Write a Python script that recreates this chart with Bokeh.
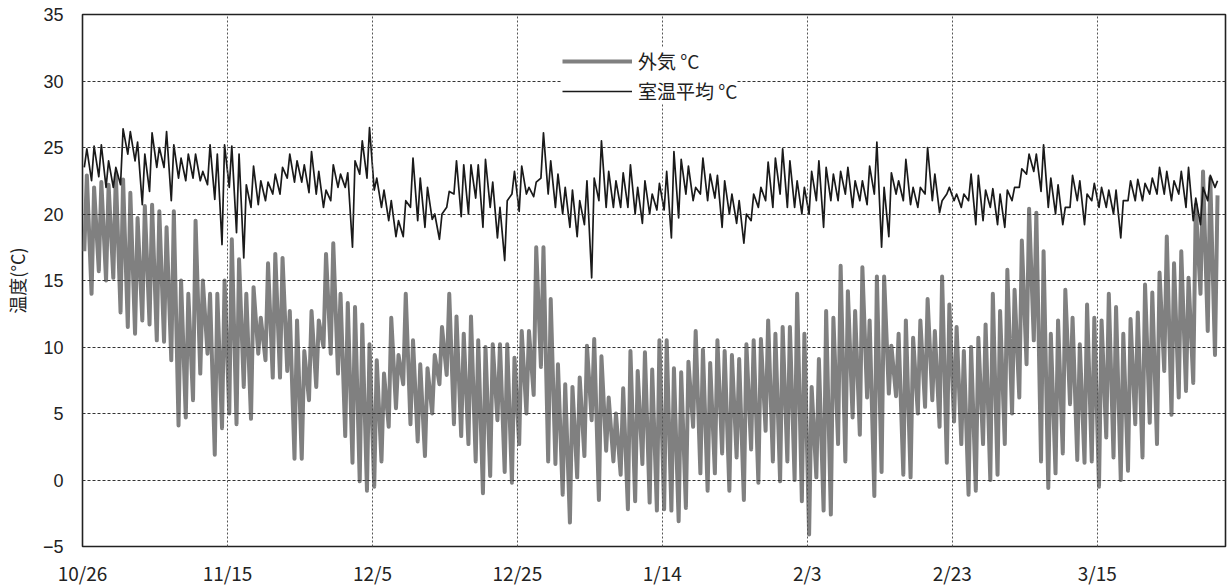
from bokeh.plotting import figure
from bokeh.models import Range1d, FixedTicker, Legend, LegendItem
from bokeh.embed import file_html
from bokeh.resources import INLINE

# ---- data (daily highs/lows), day 0 = 10/26 ----
out_hi = [22.9, 22.0, 22.4, 22.2, 23.0, 22.6, 21.6, 19.7, 20.6, 20.7, 20.2, 19.0, 20.2, 15.0, 14.0, 19.5, 15.0, 14.0, 14.0, 15.0,
          18.1, 16.6, 14.0, 14.5, 12.2, 16.3, 17.0, 16.7, 12.7, 12.0, 9.7, 12.7, 12.0, 17.0, 17.8, 14.0, 13.3, 13.0, 11.7, 10.2,
          9.0, 8.0, 12.2, 9.4, 14.0, 10.5, 8.7, 8.4, 9.4, 11.5, 14.0, 12.3, 11.0, 12.3, 10.5, 10.0, 10.2, 10.2, 10.2, 9.2,
          11.2, 11.2, 17.5, 17.5, 13.6, 8.7, 7.2, 7.0, 7.7, 10.1, 10.6, 9.3, 6.2, 5.0, 6.9, 9.7, 8.2, 9.6, 8.3, 10.5,
          10.5, 8.4, 8.1, 8.9, 11.2, 9.8, 8.8, 10.5, 9.7, 9.4, 9.1, 10.2, 10.5, 10.6, 12.0, 11.0, 11.5, 11.5, 14.0, 11.0,
          7.0, 9.1, 12.7, 12.2, 16.1, 14.2, 12.7, 16.0, 12.0, 15.3, 15.3, 10.1, 11.0, 12.0, 10.7, 12.0, 13.6, 11.2, 15.3, 13.2,
          11.5, 9.7, 10.0, 10.7, 11.7, 14.0, 12.7, 15.8, 14.3, 18.0, 20.4, 20.1, 17.2, 11.0, 12.0, 14.3, 12.2, 10.2, 13.2, 12.2,
          12.0, 14.0, 13.0, 11.0, 12.1, 12.6, 14.7, 14.1, 15.6, 18.3, 16.3, 17.2, 15.2, 20.7, 23.2, 22.7, 21.4]
out_lo = [17.2, 14.0, 15.7, 15.0, 15.2, 12.6, 11.5, 11.0, 12.0, 11.7, 10.5, 10.4, 9.0, 4.1, 4.7, 6.0, 8.0, 9.5, 1.9, 3.9,
          5.0, 4.2, 7.0, 4.6, 9.5, 9.0, 7.7, 7.7, 8.2, 1.6, 1.6, 6.0, 7.0, 10.0, 9.5, 8.0, 3.3, 1.3, -0.1, -0.8,
          -0.5, 1.4, 4.0, 5.4, 7.2, 4.2, 2.9, 1.8, 5.0, 7.2, 7.9, 4.2, 3.3, 2.7, 1.4, -1.0, 0.3, 4.5, 0.6, -0.2,
          2.7, 5.0, 6.4, 8.5, 1.4, 1.2, -1.1, -3.2, 0.2, 1.8, 4.5, -1.5, 2.2, 1.4, 0.4, -2.2, -1.6, 1.2, -1.7, -2.3,
          -2.2, -2.3, -3.1, -2.1, 4.0, 0.5, -0.8, 0.5, 2.0, -0.8, 1.7, -1.5, 2.3, -0.2, 3.7, 1.4, -0.1, 1.4, 0.0, -1.6,
          -4.1, 0.2, -2.3, -2.6, 2.7, 1.4, 4.7, 3.4, 6.2, -1.2, 0.6, 6.5, 6.3, 0.4, 0.2, 5.0, 5.5, 6.0, 4.0, 1.3,
          4.4, 2.7, -1.1, -0.8, 2.7, 0.0, 0.4, 2.7, 5.0, 6.2, 8.7, 10.5, 1.4, -0.6, 0.5, 2.0, 5.7, 1.5, 1.3, 1.4,
          -0.5, 3.2, 1.7, 0.0, 0.7, 4.2, 1.7, 4.3, 2.7, 8.2, 4.9, 6.2, 6.7, 7.3, 14.0, 11.2, 9.4]
in_hi = [24.9, 25.1, 25.2, 24.0, 23.5, 26.4, 26.2, 25.4, 24.5, 26.1, 25.0, 26.2, 25.2, 24.2, 24.5, 24.5, 23.2, 25.2, 24.5, 25.2,
         25.1, 24.5, 22.2, 23.6, 22.5, 22.4, 23.0, 23.5, 24.5, 24.0, 23.7, 24.7, 23.2, 21.8, 23.7, 23.0, 23.1, 24.0, 25.5, 26.5,
         22.7, 21.8, 21.0, 19.5, 21.0, 24.2, 22.7, 22.0, 20.0, 20.0, 21.7, 24.0, 23.7, 23.7, 23.7, 24.1, 22.4, 20.5, 21.0, 23.2,
         23.6, 22.0, 22.4, 26.1, 24.0, 23.0, 22.0, 21.8, 21.0, 22.5, 22.7, 25.5, 23.2, 22.5, 23.1, 23.7, 22.0, 22.5, 21.5, 22.3,
         23.2, 24.7, 24.1, 23.6, 22.0, 24.2, 23.0, 22.9, 22.5, 21.5, 21.0, 20.0, 21.5, 22.0, 23.9, 24.2, 24.9, 24.0, 22.5, 22.0,
         23.2, 24.0, 23.5, 23.0, 23.2, 23.5, 22.5, 22.5, 23.6, 25.4, 22.0, 23.1, 22.5, 24.1, 22.0, 22.0, 25.0, 23.0, 21.0, 22.0,
         21.5, 21.5, 23.0, 22.9, 21.8, 21.9, 21.5, 21.8, 22.0, 23.4, 24.5, 24.5, 25.2, 22.7, 22.2, 20.5, 22.9, 22.5, 21.5, 22.3,
         22.0, 21.8, 21.8, 21.0, 22.5, 22.6, 22.3, 22.7, 23.5, 23.2, 22.5, 23.2, 23.5, 21.2, 22.0, 22.9, 22.5]
in_lo = [23.5, 22.5, 22.8, 22.0, 22.0, 22.2, 24.5, 24.0, 20.7, 21.7, 23.5, 23.5, 21.0, 22.7, 22.5, 22.7, 22.5, 22.2, 21.1, 17.7,
         22.0, 18.6, 16.7, 20.5, 20.7, 21.0, 21.5, 21.5, 22.7, 22.4, 22.4, 21.6, 21.5, 20.5, 21.0, 22.0, 22.0, 17.5, 23.0, 22.7,
         21.8, 20.5, 19.5, 18.3, 18.3, 20.5, 19.5, 19.0, 19.6, 18.1, 20.5, 21.5, 19.8, 20.0, 21.2, 19.0, 20.5, 18.2, 16.5, 21.5,
         20.2, 21.5, 21.3, 22.7, 21.5, 20.5, 20.0, 19.0, 18.3, 19.2, 15.2, 21.0, 20.5, 20.5, 20.5, 20.5, 20.0, 19.3, 20.0, 20.3,
         20.3, 18.2, 19.7, 21.5, 21.0, 21.5, 21.0, 21.2, 19.0, 20.0, 19.3, 17.8, 19.5, 20.5, 21.0, 20.5, 21.5, 20.5, 20.5, 20.0,
         20.0, 21.0, 19.0, 21.0, 21.0, 21.5, 20.5, 21.0, 20.7, 21.5, 17.5, 18.3, 21.5, 21.0, 20.7, 20.5, 21.5, 21.0, 20.1, 21.5,
         21.0, 20.5, 21.0, 19.2, 19.5, 20.5, 19.2, 19.0, 21.0, 22.0, 23.0, 23.2, 21.7, 20.5, 20.0, 19.2, 20.5, 21.0, 19.2, 21.0,
         20.5, 20.5, 20.0, 18.2, 21.0, 21.0, 21.0, 21.5, 21.5, 21.5, 21.0, 21.5, 20.5, 19.5, 19.2, 21.0, 22.0]

tick_days = [0, 20, 40, 60, 80, 100, 120, 140]
tick_labels = ["10/26", "11/15", "12/5", "12/25", "1/14", "2/3", "2/23", "3/15"]
y_ticks = [-5, 0, 5, 10, 15, 20, 25, 30, 35]

series_out_name = "外気 °C"
series_in_name = "室温平均 °C"
y_title = "温度(°C)"


def daily_trace(lo, hi):
    xs, ys = [], []
    for d, (a, b) in enumerate(zip(lo, hi)):
        xs += [d + 0.25, d + 0.6]
        ys += [a, b]
    return xs, ys


ox, oy = daily_trace(out_lo, out_hi)
ix, iy = daily_trace(in_lo, in_hi)

p = figure(width=1229, height=588, output_backend="svg", toolbar_location=None,
           x_range=Range1d(0, 157.7), y_range=Range1d(-5, 35),
           min_border_left=82, min_border_right=4, min_border_top=14, min_border_bottom=42)
p.background_fill_color = "white"
p.border_fill_color = "white"
p.outline_line_color = "#222222"
p.outline_line_width = 1.6

r_out = p.line(ox, oy, line_color="#808080", line_width=4, line_join="round")
r_in = p.line(ix, iy, line_color="#1a1a1a", line_width=1.7, line_join="round")

# axes
p.xaxis.ticker = FixedTicker(ticks=tick_days)
p.xaxis.major_label_overrides = {d: s for d, s in zip(tick_days, tick_labels)}
p.yaxis.ticker = FixedTicker(ticks=y_ticks)
p.yaxis.major_label_overrides = {v: ("−5" if v == -5 else str(v)) for v in y_ticks}
for ax in (p.xaxis[0], p.yaxis[0]):
    ax.axis_line_color = None
    ax.major_tick_line_color = None
    ax.minor_tick_line_color = None
    ax.major_tick_out = 0
    ax.major_tick_in = 0
p.xaxis.major_label_text_font = "Noto Sans CJK JP"
p.xaxis.major_label_text_font_size = "19px"
p.xaxis.major_label_text_color = "#222222"
p.xaxis.major_label_standoff = 12
p.yaxis.major_label_text_font = "Liberation Sans"
p.yaxis.major_label_text_font_size = "18px"
p.yaxis.major_label_text_color = "#222222"
p.yaxis.major_label_standoff = 19
p.yaxis.axis_label = y_title
p.yaxis.axis_label_text_font = "Noto Sans CJK JP"
p.yaxis.axis_label_text_font_size = "18px"
p.yaxis.axis_label_text_font_style = "normal"
p.yaxis.axis_label_text_color = "#222222"
p.yaxis.axis_label_standoff = 10

# grids drawn on top of the data
p.ygrid.grid_line_color = "#333333"
p.ygrid.grid_line_dash = "3 2"
p.ygrid.grid_line_width = 1
p.ygrid.level = "guide"
p.xgrid.grid_line_color = "#555555"
p.xgrid.grid_line_dash = "2 2"
p.xgrid.grid_line_width = 1
p.xgrid.level = "overlay"

legend = Legend(items=[LegendItem(label=series_out_name, renderers=[r_out]),
                       LegendItem(label=series_in_name, renderers=[r_in])],
                location=(480, 442), orientation="vertical",
                glyph_width=70, glyph_height=20, label_height=20, label_standoff=6,
                spacing=3, padding=5, margin=0,
                border_line_color=None, background_fill_color="white", background_fill_alpha=1,
                label_text_font="Noto Sans CJK JP", label_text_font_size="19px",
                label_text_color="#222222")
p.add_layout(legend, "center")

open("out.html", "w").write(file_html(p, INLINE))
